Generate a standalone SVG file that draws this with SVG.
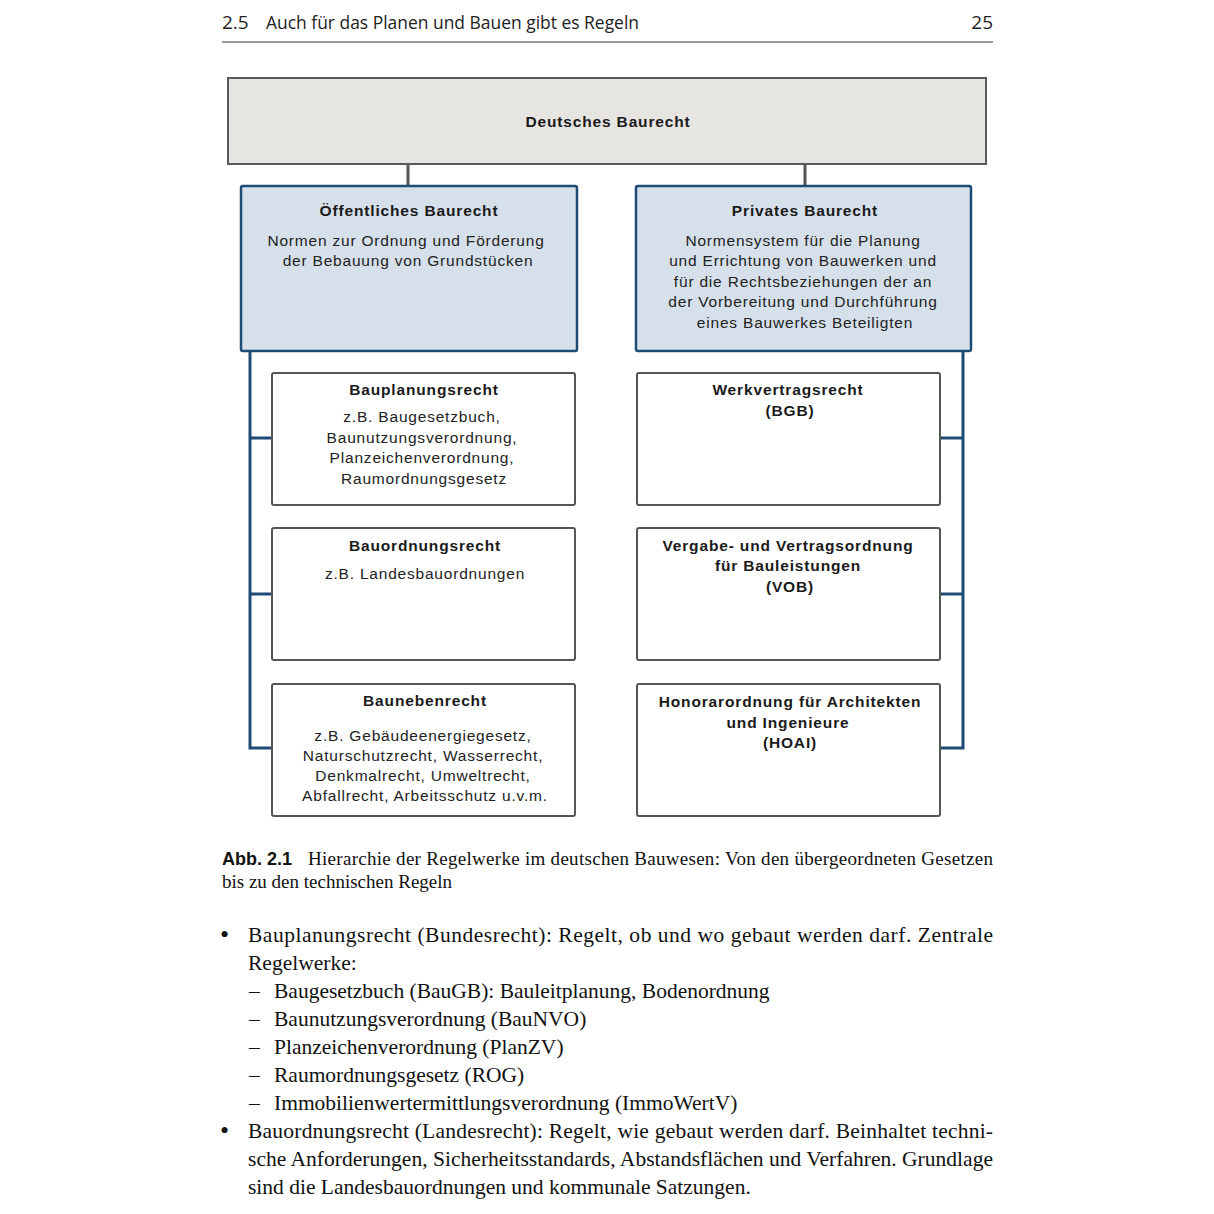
<svg xmlns="http://www.w3.org/2000/svg" width="1214" height="1214" viewBox="0 0 1214 1214">
<style>
.hdr{font-family:"Open Sans","Liberation Sans",sans-serif;font-size:19px;fill:#222}
.t{font-family:"Liberation Sans",Arial,sans-serif;font-size:15.5px;fill:#222;text-anchor:middle;letter-spacing:0.8px}
.b{font-family:"Liberation Sans",Arial,sans-serif;font-size:15.5px;font-weight:bold;fill:#1a1a1a;text-anchor:middle;letter-spacing:0.85px}
.cap{font-family:"Liberation Serif","Times New Roman",serif;font-size:19px;fill:#111}
.capb{font-family:"Liberation Sans",Arial,sans-serif;font-size:18px;font-weight:bold;fill:#111}
.body{font-family:"Liberation Serif","Times New Roman",serif;font-size:21.5px;fill:#111}
.bul{font-family:"Liberation Serif","Times New Roman",serif;font-size:26px;fill:#111}
.top{fill:#e6e5e2;stroke:#5a5a5a;stroke-width:2}
.blue{fill:#d6e0ea;stroke:#1d4b75;stroke-width:2.5}
.white{fill:#fff;stroke:#555;stroke-width:2}
.gc{stroke:#555;stroke-width:3;fill:none}
.bc{stroke:#1d4b75;stroke-width:3;fill:none}
</style>
<rect width="1214" height="1214" fill="#fff"/>
<g id="header">
<text class="hdr" x="222" y="29">2.5</text>
<text class="hdr" x="266" y="29" textLength="373" lengthAdjust="spacingAndGlyphs">Auch für das Planen und Bauen gibt es Regeln</text>
<text class="hdr" x="993" y="29" text-anchor="end">25</text>
<line x1="222" y1="42" x2="993" y2="42" stroke="#999" stroke-width="2"/>
</g>
<g id="connectors">
<line class="gc" x1="408" y1="164" x2="408" y2="186"/>
<line class="gc" x1="805" y1="164" x2="805" y2="186"/>
<path class="bc" d="M250,351 V748 H272 M250,438 H272 M250,594 H272"/>
<path class="bc" d="M963,351 V748 H940 M963,438 H940 M963,594 H940"/>
</g>
<g id="deutsches-baurecht">
<rect class="top" x="228" y="78" width="758" height="86"/>
<text class="b" x="608" y="127">Deutsches Baurecht</text>
</g>
<g id="oeffentliches-baurecht">
<rect class="blue" x="241" y="186" width="336" height="165" rx="2"/>
<text class="b" x="409" y="216">Öffentliches Baurecht</text>
<text class="t" x="406" y="246">Normen zur Ordnung und Förderung</text>
<text class="t" x="408" y="266">der Bebauung von Grundstücken</text>
</g>
<g id="privates-baurecht">
<rect class="blue" x="636" y="186" width="335" height="165" rx="2"/>
<text class="b" x="805" y="216">Privates Baurecht</text>
<text class="t" x="803" y="246">Normensystem für die Planung</text>
<text class="t" x="803" y="266">und Errichtung von Bauwerken und</text>
<text class="t" x="803" y="287">für die Rechtsbeziehungen der an</text>
<text class="t" x="803" y="307">der Vorbereitung und Durchführung</text>
<text class="t" x="805" y="328">eines Bauwerkes Beteiligten</text>
</g>
<g id="bauplanungsrecht">
<rect class="white" x="272" y="373" width="303" height="132" rx="2"/>
<text class="b" x="424" y="395">Bauplanungsrecht</text>
<text class="t" x="422" y="422">z.B. Baugesetzbuch,</text>
<text class="t" x="422" y="443">Baunutzungsverordnung,</text>
<text class="t" x="422" y="463">Planzeichenverordnung,</text>
<text class="t" x="424" y="484">Raumordnungsgesetz</text>
</g>
<g id="bauordnungsrecht">
<rect class="white" x="272" y="528" width="303" height="132" rx="2"/>
<text class="b" x="425" y="551">Bauordnungsrecht</text>
<text class="t" x="425" y="579">z.B. Landesbauordnungen</text>
</g>
<g id="baunebenrecht">
<rect class="white" x="272" y="684" width="303" height="132" rx="2"/>
<text class="b" x="425" y="706">Baunebenrecht</text>
<text class="t" x="423" y="741">z.B. Gebäudeenergiegesetz,</text>
<text class="t" x="423" y="761">Naturschutzrecht, Wasserrecht,</text>
<text class="t" x="423" y="781">Denkmalrecht, Umweltrecht,</text>
<text class="t" x="425" y="801">Abfallrecht, Arbeitsschutz u.v.m.</text>
</g>
<g id="werkvertragsrecht">
<rect class="white" x="637" y="373" width="303" height="132" rx="2"/>
<text class="b" x="788" y="395">Werkvertragsrecht</text>
<text class="b" x="790" y="416">(BGB)</text>
</g>
<g id="vob">
<rect class="white" x="637" y="528" width="303" height="132" rx="2"/>
<text class="b" x="788" y="551">Vergabe- und Vertragsordnung</text>
<text class="b" x="788" y="571">für Bauleistungen</text>
<text class="b" x="790" y="592">(VOB)</text>
</g>
<g id="hoai">
<rect class="white" x="637" y="684" width="303" height="132" rx="2"/>
<text class="b" x="790" y="707">Honorarordnung für Architekten</text>
<text class="b" x="788" y="728">und Ingenieure</text>
<text class="b" x="790" y="748">(HOAI)</text>
</g>
<g id="caption">
<text class="capb" x="222" y="865">Abb. 2.1</text>
<text class="cap" x="308" y="865" textLength="685" lengthAdjust="spacing">Hierarchie der Regelwerke im deutschen Bauwesen: Von den übergeordneten Gesetzen</text>
<text class="cap" x="222" y="888">bis zu den technischen Regeln</text>
</g>
<g id="body">
<text class="bul" x="220" y="943">•</text>
<text class="body" x="248" y="942" textLength="745" lengthAdjust="spacing">Bauplanungsrecht (Bundesrecht): Regelt, ob und wo gebaut werden darf. Zentrale</text>
<text class="body" x="248" y="970">Regelwerke:</text>
<text class="body" x="249" y="998">–</text>
<text class="body" x="274" y="998">Baugesetzbuch (BauGB): Bauleitplanung, Bodenordnung</text>
<text class="body" x="249" y="1026">–</text>
<text class="body" x="274" y="1026">Baunutzungsverordnung (BauNVO)</text>
<text class="body" x="249" y="1054">–</text>
<text class="body" x="274" y="1054">Planzeichenverordnung (PlanZV)</text>
<text class="body" x="249" y="1082">–</text>
<text class="body" x="274" y="1082">Raumordnungsgesetz (ROG)</text>
<text class="body" x="249" y="1110">–</text>
<text class="body" x="274" y="1110">Immobilienwertermittlungsverordnung (ImmoWertV)</text>
<text class="bul" x="220" y="1139">•</text>
<text class="body" x="248" y="1138" textLength="745" lengthAdjust="spacing">Bauordnungsrecht (Landesrecht): Regelt, wie gebaut werden darf. Beinhaltet techni-</text>
<text class="body" x="248" y="1166" textLength="745" lengthAdjust="spacing">sche Anforderungen, Sicherheitsstandards, Abstandsflächen und Verfahren. Grundlage</text>
<text class="body" x="248" y="1194">sind die Landesbauordnungen und kommunale Satzungen.</text>
</g>
</svg>
